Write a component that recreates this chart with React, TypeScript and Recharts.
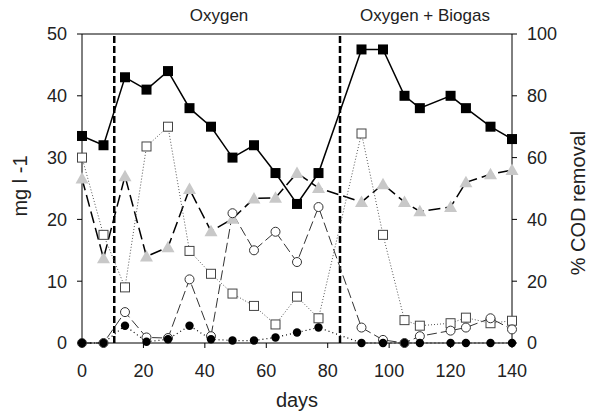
import React from 'react';
import {
  ComposedChart,
  Line,
  XAxis,
  YAxis,
  ReferenceLine,
} from 'recharts';

// sampling days
const days = [0, 7, 14, 21, 28, 35, 42, 49, 56, 63, 70, 77, 91, 98, 105, 110, 120, 125, 133, 140];

// % COD removal (right axis)
const codRemoval = [67, 64, 86, 82, 88, 76, 70, 60, 64, 55, 45, 55, 95, 95, 80, 76, 80, 76, 70, 66];

// mg l-1 series (left axis)
const openSquares = [30, 17.5, 9, 31.8, 35, 14.9, 11.2, 8, 6, 3, 7.5, 4, 33.9, 17.5, 3.7, 2.8, 3.2, 4.1, 3.2, 3.6];
const greyTriangles = [26.6, 13.7, 27, 14, 15.5, 24.9, 18.1, 20.1, 23.4, 23.5, 27.5, 25.1, 22.8, 25.7, 22.8, 21.3, 22, 26, 27.3, 28];
const openCircles = [0, 0, 5, 0.9, 0.8, 10.3, 1.1, 21, 15, 18, 13.1, 22, 2.5, 0.5, 0, 1.1, 2, 2.5, 4, 2.2];
const blackCircles = [0, 0, 2.8, 0.2, 0.6, 2.8, 0.6, 0.4, 0.4, 0.9, 1.7, 2.5, 0, 0, 0, 0, 0, 0, 0, 0];

const xTicks = [0, 20, 40, 60, 80, 100, 120, 140];
const leftTicks = [0, 10, 20, 30, 40, 50];
const rightTicks = [0, 20, 40, 60, 80, 100];

const phaseChanges = [10.5, 84];

const data = days.map((d, i) => ({
  day: d,
  cod: codRemoval[i],
  osq: openSquares[i],
  tri: greyTriangles[i],
  oci: openCircles[i],
  bci: blackCircles[i],
}));

const FONT = '"Liberation Sans", Arial, Helvetica, sans-serif';

const blackSquare = (p: any) => (
  <rect key={'bs' + p.index} x={p.cx - 5} y={p.cy - 5} width={10} height={10} fill="#000" />
);
const openSquare = (p: any) => (
  <rect key={'os' + p.index} x={p.cx - 4.5} y={p.cy - 4.5} width={9} height={9} fill="#fff" stroke="#444" strokeWidth={1} />
);
const triangle = (p: any) => (
  <path
    key={'tr' + p.index}
    d={`M${p.cx},${p.cy - 6.5} L${p.cx + 6.5},${p.cy + 5} L${p.cx - 6.5},${p.cy + 5} Z`}
    fill="#c8c8c8"
  />
);
const openCircle = (p: any) => (
  <circle key={'oc' + p.index} cx={p.cx} cy={p.cy} r={4.5} fill="#fff" stroke="#333" strokeWidth={1} />
);
const blackCircle = (p: any) => (
  <circle key={'bc' + p.index} cx={p.cx} cy={p.cy} r={4.2} fill="#000" />
);

export default function App() {
  return (
    <div style={{ position: 'absolute', left: 0, top: 0, width: 592, height: 415, background: '#fff', fontFamily: FONT }}>
      <ComposedChart
        width={592}
        height={415}
        data={data}
        margin={{ top: 34, right: 10, left: 22, bottom: 12 }}
      >
        <XAxis
          dataKey="day"
          type="number"
          domain={[0, 140]}
          ticks={xTicks}
          stroke="#000"
          tickSize={5}
          tickMargin={16}
          height={60}
          tick={{ fill: '#222', fontSize: 18, fontFamily: FONT }}
        />
        <YAxis
          yAxisId="left"
          domain={[0, 50]}
          ticks={leftTicks}
          stroke="#000"
          tickSize={5}
          tickMargin={10}
          width={60}
          tick={{ fill: '#222', fontSize: 18, fontFamily: FONT }}
        />
        <YAxis
          yAxisId="right"
          orientation="right"
          domain={[0, 100]}
          ticks={rightTicks}
          stroke="#000"
          tickSize={5}
          tickMargin={10}
          width={70}
          tick={{ fill: '#222', fontSize: 18, fontFamily: FONT }}
        />
        <ReferenceLine yAxisId="left" y={50} stroke="#000" strokeWidth={1} />
        {phaseChanges.map((x) => (
          <ReferenceLine key={x} yAxisId="left" x={x} stroke="#000" strokeWidth={2.5} strokeDasharray="7 3" />
        ))}
        <Line
          yAxisId="left"
          dataKey="tri"
          stroke="#000"
          strokeWidth={1.5}
          strokeDasharray="12 5"
          dot={triangle}
          isAnimationActive={false}
        />
        <Line
          yAxisId="left"
          dataKey="osq"
          stroke="#555"
          strokeWidth={1}
          strokeDasharray="1 2"
          dot={openSquare}
          isAnimationActive={false}
        />
        <Line
          yAxisId="left"
          dataKey="oci"
          stroke="#333"
          strokeWidth={1}
          strokeDasharray="10 4"
          dot={openCircle}
          isAnimationActive={false}
        />
        <Line
          yAxisId="left"
          dataKey="bci"
          stroke="#000"
          strokeWidth={1.2}
          strokeDasharray="1 3"
          dot={blackCircle}
          isAnimationActive={false}
        />
        <Line
          yAxisId="right"
          dataKey="cod"
          stroke="#000"
          strokeWidth={1.5}
          dot={blackSquare}
          isAnimationActive={false}
        />
        <text x={219} y={21} textAnchor="middle" fontSize={17} fontFamily={FONT} fill="#222">Oxygen</text>
        <text x={425} y={21} textAnchor="middle" fontSize={17} fontFamily={FONT} fill="#222">Oxygen + Biogas</text>
        <text x={297} y={407} textAnchor="middle" fontSize={20} fontFamily={FONT} fill="#222">days</text>
        <text
          x={27}
          y={186}
          textAnchor="middle"
          fontSize={20}
          fontFamily={FONT}
          fill="#222"
          transform="rotate(-90 27 186)"
        >
          mg l -1
        </text>
        <text
          x={585}
          y={203}
          textAnchor="middle"
          fontSize={20}
          fontFamily={FONT}
          fill="#222"
          transform="rotate(-90 585 203)"
        >
          % COD removal
        </text>
      </ComposedChart>
    </div>
  );
}
